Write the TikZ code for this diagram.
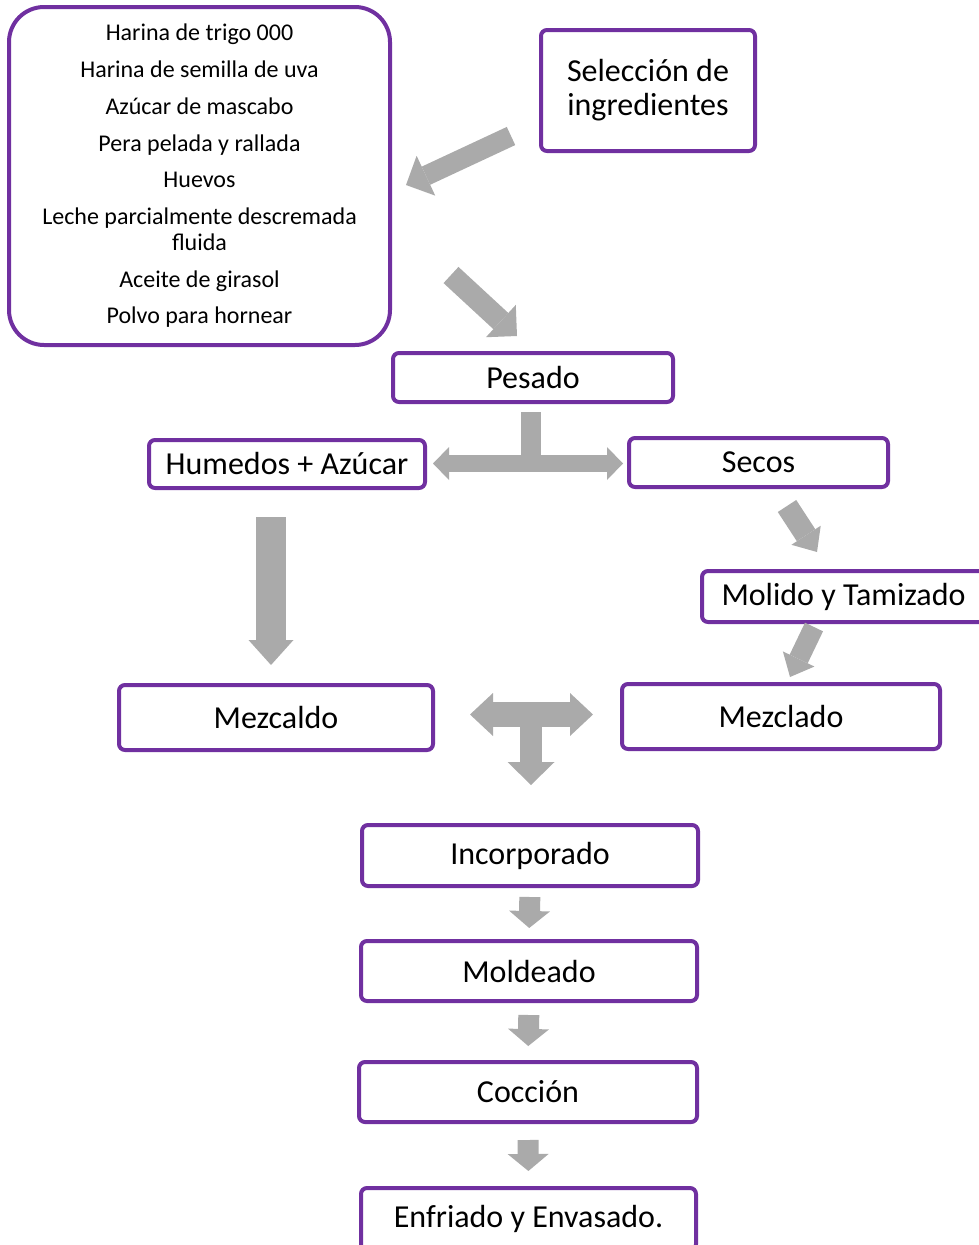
\documentclass[tikz,border=0pt]{standalone}
\usepackage{fontspec}
\setmainfont{Carlito}
\usepackage{tikz}
\usetikzlibrary{arrows.meta}

\definecolor{boxpurple}{RGB}{112,48,160}
\definecolor{arrowgray}{RGB}{170,170,170}

\tikzset{
	stage/.style={draw=boxpurple, line width=4pt, rounded corners=6pt,
		inner sep=0pt, align=center, font=\fontsize{32}{34}\selectfont},
	blk/.style n args={3}{draw=arrowgray, line width=#1,
		-{Triangle[width=#2, length=#3, line width=0pt]}},
	dblk/.style n args={3}{draw=arrowgray, line width=#1,
		{Triangle[width=#2, length=#3, line width=0pt]}-{Triangle[width=#2, length=#3, line width=0pt]}}
}

\begin{document}
\begin{tikzpicture}[x=1pt, y=-1pt]
		\useasboundingbox (0,0) rectangle (979,1245);
		%
		\node[stage, rounded corners=35pt, minimum width=381pt, minimum height=338pt,
			font=\fontsize{24}{26}\selectfont] (ingr) at (199.5,176)
			{Harina de trigo 000\\[10.7pt] Harina de semilla de uva\\[10.7pt] Azúcar de mascabo\\[10.7pt]
			 Pera pelada y rallada\\[10.7pt] Huevos\\[10.7pt] Leche parcialmente descremada\\ fluida\\[10.7pt]
			 Aceite de girasol\\[10.7pt] Polvo para hornear};
		\node[stage, minimum width=214pt, minimum height=121pt] (sel) at (648,90.5) {Selección de\\ ingredientes};
		\node[stage, minimum width=280pt, minimum height=49pt] (pesado) at (533,377.5) {Pesado};
		\node[stage, minimum width=276pt, minimum height=48pt] (humedos) at (287,464) {Humedos + Azúcar};
		\node[stage, minimum width=259pt, minimum height=49pt] (secos) at (758.5,462.5) {Secos};
		\node[stage, minimum width=283pt, minimum height=51pt] (molido) at (843.5,596.5) {Molido y Tamizado};
		\node[stage, minimum width=314pt, minimum height=65pt] (mezcaldo) at (276,717.5) {Mezcaldo};
		\node[stage, minimum width=318pt, minimum height=65pt] (mezclado) at (781,716.5) {Mezclado};
		\node[stage, minimum width=336pt, minimum height=61pt] (incorp) at (530,855.5) {Incorporado};
		\node[stage, minimum width=336pt, minimum height=60pt] (molde) at (529,971) {Moldeado};
		\node[stage, minimum width=338pt, minimum height=60pt] (coccion) at (528,1092) {Cocción};
		\node[stage, minimum width=335pt, minimum height=62pt] (enfriado) at (528.5,1219) {Enfriado y Envasado.};
		%
		% free ends of the block arrows
		\coordinate (sel-out) at (511,136);
		\coordinate (ingr-in) at (406,185);
		\coordinate (ingr-out) at (451,275);
		\coordinate (pesado-in) at (517,336);
		\coordinate (pesado-out) at (530.5,412);
		\coordinate (split) at (530.5,463.5);
		\coordinate (hum-in) at (433,463.5);
		\coordinate (sec-in) at (623,463.5);
		\coordinate (secos-out) at (787,506);
		\coordinate (molido-in) at (817,552);
		\coordinate (molido-out) at (814,627);
		\coordinate (mezclado-in) at (790,677);
		\coordinate (hum-out) at (271,517);
		\coordinate (mezcaldo-in) at (271,665);
		\coordinate (join-l) at (470,714.5);
		\coordinate (join-r) at (593,714.5);
		\coordinate (join) at (531,714.5);
		\coordinate (incorp-in) at (531,785);
		%
		\draw[blk={20pt}{44pt}{22pt}] (sel-out) -- (ingr-in);
		\draw[blk={22pt}{44pt}{22pt}] (ingr-out) -- (pesado-in);
		\draw[draw=arrowgray, line width=20pt] (pesado-out) -- (split);
		\draw[dblk={17pt}{33pt}{16pt}] (hum-in) -- (sec-in);
		\draw[blk={22pt}{35pt}{20pt}] (secos-out) -- (molido-in);
		\draw[blk={20pt}{35pt}{20pt}] (molido-out) -- (mezclado-in);
		\draw[blk={30pt}{45pt}{25pt}] (hum-out) -- (mezcaldo-in);
		\draw[dblk={25pt}{43pt}{23pt}] (join-l) -- (join-r);
		\draw[blk={22pt}{47pt}{23pt}] (join) -- (incorp-in);
		%
		\draw[blk={21pt}{41pt}{17pt}, shorten <=9pt, shorten >=11pt] (incorp.south) -- (molde.north);
		\draw[blk={21pt}{41pt}{17pt}, shorten <=12pt, shorten >=14pt] (molde.south) -- (coccion.north);
		\draw[blk={21pt}{41pt}{17pt}, shorten <=16pt, shorten >=15pt] (coccion.south) -- (enfriado.north);
	\end{tikzpicture}
\end{document}
